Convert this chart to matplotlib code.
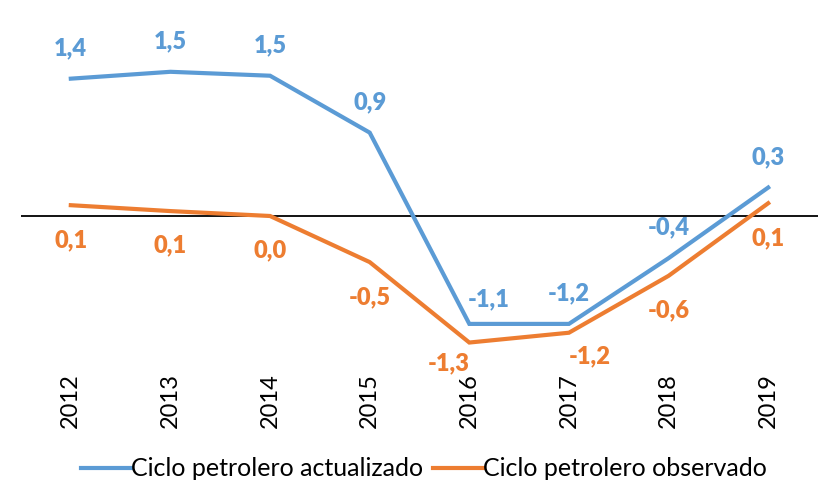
import matplotlib
matplotlib.use('Agg')
import matplotlib.pyplot as plt

plt.rcParams['font.family'] = ['Lato', 'DejaVu Sans']

years = ['2012', '2013', '2014', '2015', '2016', '2017', '2018', '2019']
actualizado = [1.40, 1.47, 1.43, 0.85, -1.10, -1.10, -0.43, 0.29]
observado = [0.11, 0.05, 0.00, -0.47, -1.29, -1.19, -0.61, 0.13]
actualizado_labels = ['1,4', '1,5', '1,5', '0,9', '-1,1', '-1,2', '-0,4', '0,3']
observado_labels = ['0,1', '0,1', '0,0', '-0,5', '-1,3', '-1,2', '-0,6', '0,1']

BLUE = '#5B9BD5'
ORANGE = '#ED7D31'

fig = plt.figure(figsize=(8.2, 4.93), dpi=100)
ax = fig.add_axes([21 / 820, 123 / 493, 797 / 820, 360 / 493])

x = list(range(len(years)))
ax.axhline(0, color='black', lw=1.3, zorder=1)
ax.plot(x, actualizado, color=BLUE, lw=3, solid_joinstyle='miter',
        label='Ciclo petrolero actualizado', zorder=3)
ax.plot(x, observado, color=ORANGE, lw=3, solid_joinstyle='miter',
        label='Ciclo petrolero observado', zorder=2)

# label offsets in points (dx, dy)
blue_off = {4: (14, 18)}
for i, (v, t) in enumerate(zip(actualizado, actualizado_labels)):
    dx, dy = blue_off.get(i, (0, 22))
    ax.annotate(t, (i, v), xytext=(dx, dy), textcoords='offset points',
                ha='center', va='center', color=BLUE, fontsize=17,
                fontweight='heavy')
obs_off = {4: (-15, -15), 5: (15, -17)}
for i, (v, t) in enumerate(zip(observado, observado_labels)):
    dx, dy = obs_off.get(i, (0, -25))
    ax.annotate(t, (i, v), xytext=(dx, dy), textcoords='offset points',
                ha='center', va='center', color=ORANGE, fontsize=17,
                fontweight='heavy')

ax.set_xlim(-0.5, 7.5)
ax.set_ylim(-1.57, 2.10)
ax.set_xticks(x)
ax.set_xticklabels(years, rotation=90, fontsize=17)
ax.tick_params(axis='x', length=0, pad=2)
ax.set_yticks([])
for s in ax.spines.values():
    s.set_visible(False)

fig.legend(loc='center', bbox_to_anchor=(424 / 820, 1 - 469 / 493), ncol=2,
           frameon=False, fontsize=18, handlelength=2.0, handletextpad=0.0,
           columnspacing=0.4)

fig.savefig('out.png', dpi=100)
